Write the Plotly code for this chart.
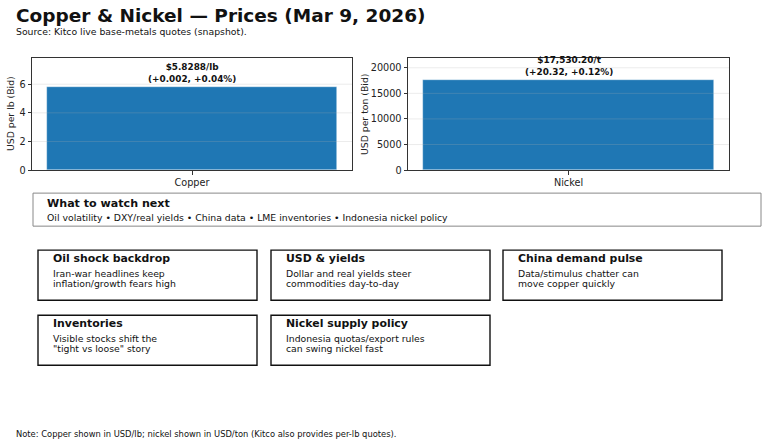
import plotly.graph_objects as go

# ---------------- data ----------------
metals = ["Copper", "Nickel"]
bid_prices = [5.8288, 17530.20]
changes = [0.002, 20.32]
change_pcts = [0.04, 0.12]
price_labels = ["$5.8288/lb", "$17,530.20/t"]
change_labels = ["(+0.002, +0.04%)", "(+20.32, +0.12%)"]
axis_titles = ["USD per lb (Bid)", "USD per ton (Bid)"]
copper_ticks = [0, 2, 4, 6]
nickel_ticks = [0, 5000, 10000, 15000, 20000]

title_text = "Copper & Nickel — Prices (Mar 9, 2026)"
subtitle_text = "Source: Kitco live base-metals quotes (snapshot)."
watch_title = "What to watch next"
watch_items = ["Oil volatility", "DXY/real yields", "China data", "LME inventories", "Indonesia nickel policy"]
card_titles = ["Oil shock backdrop", "USD & yields", "China demand pulse", "Inventories", "Nickel supply policy"]
card_bodies = [
    ["Iran-war headlines keep", "inflation/growth fears high"],
    ["Dollar and real yields steer", "commodities day-to-day"],
    ["Data/stimulus chatter can", "move copper quickly"],
    ["Visible stocks shift the", "\"tight vs loose\" story"],
    ["Indonesia quotas/export rules", "can swing nickel fast"],
]
note_text = "Note: Copper shown in USD/lb; nickel shown in USD/ton (Kitco also provides per-lb quotes)."

# ---------------- layout helpers ----------------
W, H = 768, 445
VS = 1.012
FONT = "DejaVu Sans"
def px(x):
    return x / W
def py(y):
    return 1 - y * VS / H

BLUE = "#1f77b4"
GRID = "rgba(176,176,176,0.3)"
fig = go.Figure()

fig.add_trace(go.Bar(x=[metals[0]], y=[bid_prices[0]], xaxis="x", yaxis="y",
                     marker=dict(color=BLUE, line=dict(width=0.6, color="rgba(255,255,255,0.6)")),
                     width=0.8, showlegend=False, hoverinfo="skip"))
fig.add_trace(go.Bar(x=[metals[1]], y=[bid_prices[1]], xaxis="x2", yaxis="y2",
                     marker=dict(color=BLUE, line=dict(width=0.6, color="rgba(255,255,255,0.6)")),
                     width=0.8, showlegend=False, hoverinfo="skip"))

axis_common = dict(showline=True, mirror=True, linecolor="#333", linewidth=1,
                   ticks="outside", ticklen=3.5, tickwidth=0.8, tickcolor="#333",
                   tickfont=dict(family=FONT, size=9.7, color="#222"), zeroline=False,
                   showgrid=False)

fig.update_layout(
    width=W, height=H, margin=dict(l=0, r=0, t=0, b=0),
    paper_bgcolor="white", plot_bgcolor="white", bargap=0,
    font=dict(family=FONT, color="#111"),
    xaxis=dict(domain=[px(32), px(352)], anchor="y", range=[-0.44, 0.44], **axis_common),
    yaxis=dict(domain=[py(170), py(58)], anchor="x", range=[0, 7.83],
               tickvals=copper_ticks, **axis_common),
    xaxis2=dict(domain=[px(408), px(729)], anchor="y2", range=[-0.44, 0.44], **axis_common),
    yaxis2=dict(domain=[py(170), py(58)], anchor="x2", range=[0, 21900], tickformat="d",
                tickvals=nickel_ticks, **axis_common),
)

shapes = []
# grid lines drawn above the bars (as in the reference)
for xr, yr, ticks in [("x domain", "y", copper_ticks), ("x2 domain", "y2", nickel_ticks)]:
    for v in ticks[1:]:
        shapes.append(dict(type="line", xref=xr, yref=yr, x0=0, x1=1, y0=v, y1=v,
                           line=dict(color=GRID, width=0.8), layer="above"))

def text_ann(x, y, text, size, bold=False, **kw):
    d = dict(x=px(x), y=py(y), xref="paper", yref="paper", xanchor="left", yanchor="middle",
             showarrow=False, borderpad=0, borderwidth=0,
             text=f"<b>{text}</b>" if bold else text,
             font=dict(family=FONT, size=size, color="#111"))
    d.update(kw)
    return d

ann = []
# bar value labels
for i, (xr, yr) in enumerate([("x", "y"), ("x2", "y2")]):
    ann.append(dict(x=metals[i], y=bid_prices[i], xref=xr, yref=yr, xanchor="center", yanchor="bottom",
                    yshift=3, showarrow=False, align="center", borderpad=0, borderwidth=0,
                    text=f"<b>{price_labels[i]}<br>{change_labels[i]}</b>",
                    font=dict(family=FONT, size=8.9, color="#111")))
# y axis titles
for xpos, t in zip([10, 364], axis_titles):
    ann.append(dict(x=px(xpos), y=py(114), xref="paper", yref="paper", textangle=-90,
                    xanchor="center", yanchor="middle", showarrow=False, text=t,
                    borderpad=0, borderwidth=0,
                    font=dict(family=FONT, size=9.3, color="#222")))
# title and subtitle
ann.append(text_ann(16, 15, title_text, 18.5, bold=True))
ann.append(text_ann(16, 31, subtitle_text, 9.3))

# watch box
shapes.append(dict(type="rect", xref="paper", yref="paper", x0=px(33), x1=px(761), y0=py(226), y1=py(193),
                   line=dict(color="#888", width=1), fillcolor="white", layer="below"))
ann.append(text_ann(47, 203, watch_title, 11.1, bold=True))
ann.append(text_ann(47, 217.5, " • ".join(watch_items), 9.3))

# cards
col_left = [38, 271, 503]
row_top = [250, 315]
card_w, card_h = 219, 50
for k, (t, body) in enumerate(zip(card_titles, card_bodies)):
    r, c = divmod(k, 3)
    x0 = col_left[c]
    y0 = row_top[r]
    shapes.append(dict(type="rect", xref="paper", yref="paper", x0=px(x0), x1=px(x0 + card_w),
                       y0=py(y0 + card_h), y1=py(y0), line=dict(color="#111", width=1.4),
                       fillcolor="white", layer="below"))
    ann.append(text_ann(x0 + 15, y0 + 8, t, 10.9, bold=True))
    for j, line in enumerate(body):
        ann.append(text_ann(x0 + 15, y0 + 23 + 10.5 * j, line, 9.3))

ann.append(text_ann(16, 434, note_text, 8.35))

fig.update_layout(annotations=ann, shapes=shapes)
fig.write_html("out.html", config={"displayModeBar": False},
               post_script="document.body.style.margin='0';")
